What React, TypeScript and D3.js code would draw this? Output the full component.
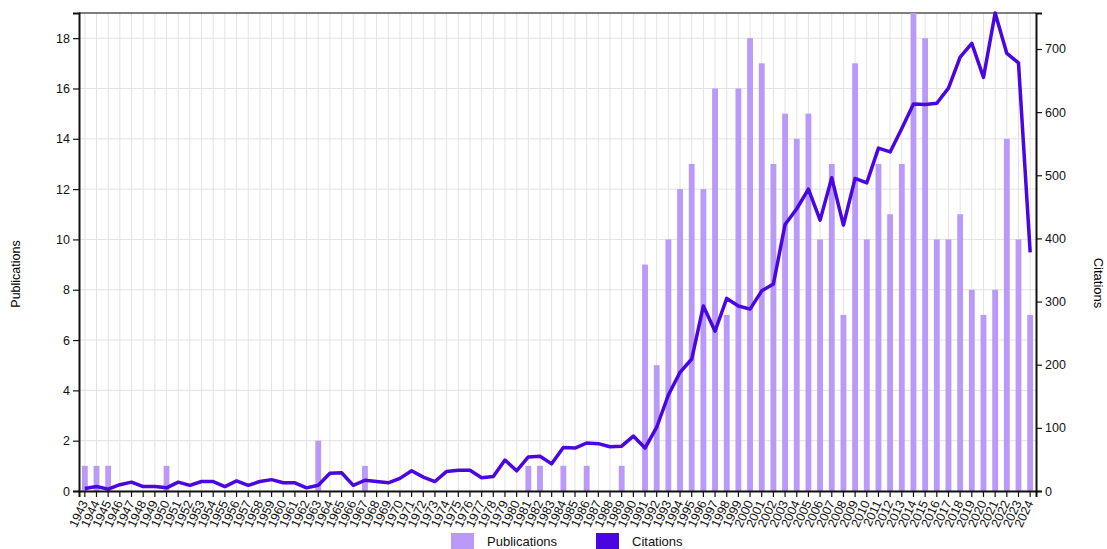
import { useEffect, useRef } from "react";
import * as d3 from "d3";

// years shown on the x axis
const years = d3.range(1943, 2025).map(String);

// publications per year (left axis)
const publications = [
  1, 1, 1, 0, 0, 0, 0, 1,
  0, 0, 0, 0, 0, 0, 0, 0, 0, 0, 0, 0,
  2, 0, 0, 0, 1,
  0, 0, 0, 0, 0, 0, 0, 0, 0, 0, 0, 0, 0,
  1, 1, 0, 1, 0, 1, 0, 0, 1, 0,
  9, 5, 10, 12, 13, 12, 16, 7, 16, 18,
  17, 13, 15, 14, 15, 10, 13, 7, 17, 10,
  13, 11, 13, 19, 18, 10, 10, 11, 8, 7,
  8, 14, 10, 7,
];

// citations per year (right axis)
const citations = [
  4, 7, 3, 10, 14, 7, 7, 5,
  14, 9, 15, 15, 7, 16, 9, 15, 18, 13, 13, 5,
  9, 28, 29, 9, 17,
  15, 13, 20, 32, 22, 15, 31, 33, 33, 21, 23, 49, 32,
  54, 55, 43, 69, 68, 76, 75, 70, 71, 87,
  68, 101, 152, 188, 209, 293, 253, 305, 293, 288,
  317, 328, 422, 447, 478, 429, 496, 421, 495, 488,
  543, 537, 574, 613, 612, 614, 638, 687, 709, 655,
  757, 693, 678, 378,
];

const leftTicks = [0, 2, 4, 6, 8, 10, 12, 14, 16, 18];
const rightTicks = [0, 100, 200, 300, 400, 500, 600, 700];

const BAR = "#b99af9";
const LINE = "#4a05e3";

export default function App() {
  const ref = useRef<SVGSVGElement>(null);

  useEffect(() => {
    document.body.style.margin = "0";
    if (!ref.current) return;
    const svgSel = d3.select(ref.current);
    svgSel.selectAll("*").remove();

    const width = 1107;
    const height = 549;
    const margin = { top: 13, right: 71, bottom: 58, left: 79 };
    const w = width - margin.left - margin.right;
    const h = height - margin.top - margin.bottom;

    const g = svgSel
      .append("g")
      .attr("transform", `translate(${margin.left},${margin.top})`);

    const x = d3.scaleBand().domain(years).range([0, w]).paddingInner(0.5).paddingOuter(0.25);
    const yL = d3.scaleLinear().domain([0, d3.max(publications)!]).range([h, 0]);
    const yR = d3.scaleLinear().domain([0, d3.max(citations)!]).range([h, 0]);
    const cx = (d: string) => x(d)! + x.bandwidth() / 2;

    // grid
    g.append("g")
      .selectAll("line")
      .data(years)
      .enter()
      .append("line")
      .attr("x1", cx)
      .attr("x2", cx)
      .attr("y1", 0)
      .attr("y2", h)
      .style("stroke", "#e3e3e3");
    g.append("g")
      .selectAll("line")
      .data(leftTicks)
      .enter()
      .append("line")
      .attr("x1", 0)
      .attr("x2", w)
      .attr("y1", (d) => yL(d))
      .attr("y2", (d) => yL(d))
      .style("stroke", "#e3e3e3");

    // top border
    g.append("line")
      .attr("x1", 0)
      .attr("x2", w)
      .attr("y1", 0)
      .attr("y2", 0)
      .style("stroke", "#555")
      .style("stroke-width", 1.5);

    // bars
    g.selectAll(".bar")
      .data(years)
      .enter()
      .append("rect")
      .attr("class", "bar")
      .attr("x", (d) => x(d)!)
      .attr("width", x.bandwidth())
      .attr("y", (d, i) => yL(publications[i]))
      .attr("height", (d, i) => h - yL(publications[i]))
      .style("fill", BAR);

    // citations line
    const line = d3
      .line<number>()
      .x((d, i) => cx(years[i]))
      .y((d) => yR(d));
    g.append("path")
      .datum(citations)
      .attr("d", line)
      .style("fill", "none")
      .style("stroke", LINE)
      .style("stroke-width", 3.5)
      .style("stroke-linejoin", "round");

    const font = "Liberation Sans, Arial, sans-serif";

    // axes
    const xAxis = g
      .append("g")
      .attr("transform", `translate(0,${h})`)
      .call(d3.axisBottom(x).tickSizeOuter(6));
    xAxis
      .selectAll("text")
      .attr("y", 0)
      .attr("x", 0)
      .attr("dy", "0.35em")
      .attr("dx", "-0.1em")
      .attr("transform", "translate(0,9) rotate(-65)")
      .style("text-anchor", "end");

    const left = g.append("g").call(d3.axisLeft(yL).tickValues(leftTicks));
    const right = g
      .append("g")
      .attr("transform", `translate(${w},0)`)
      .call(d3.axisRight(yR).tickValues(rightTicks));

    [xAxis, left, right].forEach((a) => {
      a.selectAll("text").style("font-family", font).style("font-size", "12.5px").style("fill", "#111");
      a.selectAll("line").style("stroke", "#111").style("stroke-width", 1.2);
      a.select(".domain").style("stroke", "#111").style("stroke-width", 2);
    });

    // axis titles
    svgSel
      .append("text")
      .attr("transform", `translate(20,274) rotate(-90)`)
      .attr("text-anchor", "middle")
      .style("font-family", font)
      .style("font-size", "12.5px")
      .text("Publications");
    svgSel
      .append("text")
      .attr("transform", `translate(1094,283) rotate(90)`)
      .attr("text-anchor", "middle")
      .style("font-family", font)
      .style("font-size", "13px")
      .text("Citations");

    // legend
    const legend = svgSel.append("g").attr("transform", "translate(451,533)");
    const items = [
      { label: "Publications", color: BAR, dx: 0 },
      { label: "Citations", color: LINE, dx: 145 },
    ];
    items.forEach((it) => {
      legend
        .append("rect")
        .attr("x", it.dx)
        .attr("y", 0)
        .attr("width", 23)
        .attr("height", 17)
        .style("fill", it.color);
      legend
        .append("text")
        .attr("x", it.dx + 36)
        .attr("y", 13)
        .style("font-family", font)
        .style("font-size", "13px")
        .style("fill", "#111")
        .text(it.label);
    });
  }, []);

  return <svg ref={ref} width={1107} height={549} style={{ display: "block" }} />;
}
